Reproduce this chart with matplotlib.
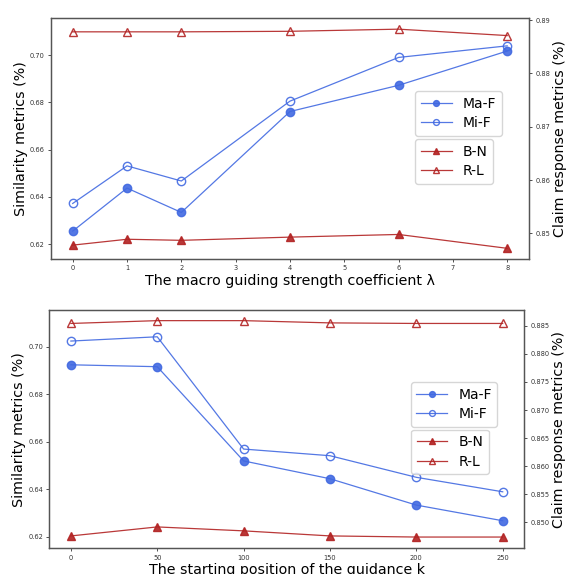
import numpy as np
import matplotlib
matplotlib.use("Agg")
import matplotlib.pyplot as plt

# ____________________________________________________________
# data

lam = [0, 1, 2, 4, 6, 8]
lam_maf = [0.6255, 0.6437, 0.6334, 0.6761, 0.6872, 0.7017]
lam_mif = [0.6372, 0.6531, 0.6467, 0.6805, 0.6990, 0.7039]
lam_bn = [0.8478, 0.8489, 0.8487, 0.8493, 0.8498, 0.8472]
lam_rl = [0.8878, 0.8878, 0.8878, 0.8879, 0.8883, 0.8871]

kpos = [0, 50, 100, 150, 200, 250]
k_maf = [0.6924, 0.6916, 0.6519, 0.6444, 0.6333, 0.6267]
k_mif = [0.7024, 0.7042, 0.6569, 0.6541, 0.6450, 0.6389]
k_bn = [0.8476, 0.8492, 0.8485, 0.8476, 0.8474, 0.8474]
k_rl = [0.8854, 0.8859, 0.8859, 0.8855, 0.8854, 0.8854]

blue = 'royalblue'
red = 'firebrick'
grey = '#555555'


def panel(rect, x, maf, mif, bn, rl, xlabel, ylim_l, ylim_r, yt_l, yt_r, fmt_r, xt):
    ax = fig.add_axes(rect)
    ax2 = ax.twinx()
    l1, = ax.plot(x, maf, color=blue, marker='o', ms=6, lw=0.9, alpha=0.9, label='Ma-F')
    l2, = ax.plot(x, mif, color=blue, marker='o', ms=6, lw=0.9, alpha=0.9,
                  markerfacecolor='none', label='Mi-F')
    l3, = ax2.plot(x, bn, color=red, marker='^', ms=6, lw=0.9, alpha=0.9, label='B-N')
    l4, = ax2.plot(x, rl, color=red, marker='^', ms=6, lw=0.9, alpha=0.9,
                   markerfacecolor='none', label='R-L')
    ax.set_ylim(*ylim_l)
    ax2.set_ylim(*ylim_r)
    ax.set_yticks(yt_l)
    ax.set_yticklabels(['%.2f' % v for v in yt_l])
    ax2.set_yticks(yt_r)
    ax2.set_yticklabels([fmt_r % v for v in yt_r])
    ax.set_xticks(xt)
    ax.set_xlabel(xlabel, fontsize=10.3, labelpad=2)
    ax.set_ylabel('Similarity metrics (%)', fontsize=10.3, labelpad=1.5)
    ax2.set_ylabel('Claim response metrics (%)', fontsize=10.3, labelpad=2)
    for a in (ax, ax2):
        a.tick_params(labelsize=4.8, length=2.5, width=0.6, colors='#333333', pad=2)
        for s in a.spines.values():
            s.set_color(grey)
            s.set_linewidth(0.9)
    # two separate legends, both on the twin axis so they sit above the lines
    leg1 = ax2.legend(handles=[l1, l2], loc='upper right', bbox_to_anchor=(0.943, 0.697),
                      fontsize=10, markerscale=0.7, handlelength=2.2, borderpad=0.4,
                      labelspacing=0.4, borderaxespad=0)
    ax2.add_artist(leg1)
    ax2.legend(handles=[l3, l4], loc='upper right', bbox_to_anchor=(0.925, 0.498),
               fontsize=10, markerscale=0.7, handlelength=2.2, borderpad=0.4,
               labelspacing=0.4, borderaxespad=0)
    return ax, ax2


fig = plt.figure(figsize=(5.71, 5.74), dpi=100)

panel([0.0893, 0.5488, 0.837, 0.4199], lam, lam_maf, lam_mif, lam_bn, lam_rl,
      'The macro guiding strength coefficient λ', (0.6137, 0.7157), (0.8452, 0.8904),
      [0.62, 0.64, 0.66, 0.68, 0.70], [0.85, 0.86, 0.87, 0.88, 0.89], '%.2f',
      [0, 1, 2, 3, 4, 5, 6, 7, 8])

panel([0.0863, 0.0448, 0.8319, 0.4152], kpos, k_maf, k_mif, k_bn, k_rl,
      'The starting position of the guidance k', (0.6151, 0.7155), (0.8454, 0.8878),
      [0.62, 0.64, 0.66, 0.68, 0.70], [0.850, 0.855, 0.860, 0.865, 0.870, 0.875, 0.880, 0.885],
      '%.3f', [0, 50, 100, 150, 200, 250])

fig.savefig('out.png', dpi=100)
